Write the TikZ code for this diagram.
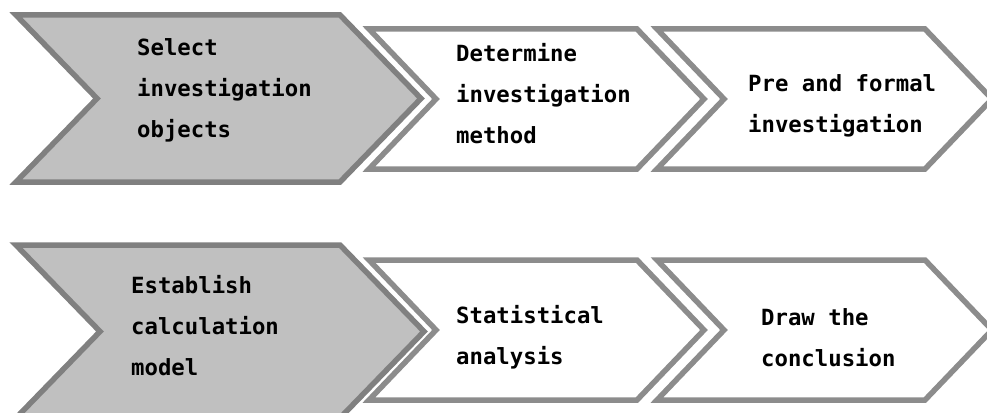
\documentclass[tikz,border=0pt]{standalone}
\usepackage{fontspec}
\newfontfamily\lblfont{DejaVu Sans Mono}
\definecolor{chevfill}{HTML}{C0C0C0}
\definecolor{chevdark}{HTML}{808080}
\definecolor{chevline}{HTML}{8C8C8C}
\tikzset{
  firstchev/.style={fill=chevfill, draw=chevdark, line width=5.5pt, line join=miter},
  nextchev/.style={fill=white, draw=chevline, line width=5.5pt, line join=miter},
  lbl/.style={anchor=north west, inner sep=0pt, align=left, text=black,
    font={\lblfont\bfseries\fontsize{22.3}{41}\selectfont}}
}
\newcommand{\chevshape}[6]{% style, L, R, T, B, depth
  \path[#1] (#2,#4) -- (#3,#4) -- ({#3+#6},{(#4+#5)/2}) -- (#3,#5) -- (#2,#5) -- ({#2+#6},{(#4+#5)/2}) -- cycle;}
\begin{document}
\begin{tikzpicture}[x=1pt,y=-1pt]
\useasboundingbox (0,0) rectangle (987,412);
\clip (0,0) rectangle (987,412);
% row 1
\chevshape{firstchev}{16}{340}{15}{182}{81}
\chevshape{nextchev}{369}{637}{29}{169}{67}
\chevshape{nextchev}{657}{925}{29}{169}{67}
% row 2
\chevshape{firstchev}{16}{340}{245}{418}{84}
\chevshape{nextchev}{369}{637}{260}{400}{67}
\chevshape{nextchev}{657}{925}{260}{400}{67}
% labels
\node[lbl] (t11) at (137,38) {Select\\investigation\\objects};
\node[lbl] (t12) at (456,43) {Determine\\investigation\\method};
\node[lbl] (t13) at (748,74) {Pre and formal\\investigation};
\node[lbl] (t21) at (131,275) {Establish\\calculation\\model};
\node[lbl] (t22) at (456,305) {Statistical\\analysis};
\node[lbl] (t23) at (761,308) {Draw the\\conclusion};
\end{tikzpicture}
\end{document}
